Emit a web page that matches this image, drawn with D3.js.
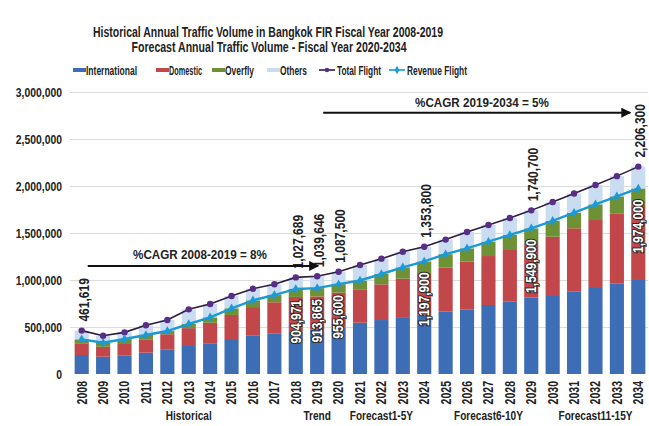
<!DOCTYPE html>
<html><head><meta charset="utf-8">
<script src="https://cdn.jsdelivr.net/npm/d3@7"></script>
<style>
html,body{margin:0;padding:0;background:#fff;}
svg{display:block;font-family:'Liberation Sans',Arial,sans-serif;font-weight:bold;}
svg text{font-family:'Liberation Sans',Arial,sans-serif;font-weight:bold;}
</style></head>
<body>
<svg id="chart" width="649" height="426"></svg>
<script>
const years = ["2008","2009","2010","2011","2012","2013","2014","2015","2016","2017","2018","2019","2020","2021","2022","2023","2024","2025","2026","2027","2028","2029","2030","2031","2032","2033","2034"];
const international = [202000,184000,199000,227000,263000,298000,327000,372000,412000,433000,455000,470000,495000,546000,574000,605000,630000,663000,688000,734000,769000,812000,840000,880000,925000,965000,1010000];
const domestic = [125000,106000,120000,142000,160000,190000,218000,256000,300000,330000,365000,355000,370000,355000,380000,410000,445000,470000,507000,521000,550000,573000,621000,670000,713000,744000,788000];
const overfly = [42000,43000,53000,46000,34000,44000,58000,71000,72000,77000,85000,89000,91000,94000,110000,120000,123000,142000,142000,153000,161000,165000,169000,166000,167000,181000,176000];
const others = [93000,74000,71000,103000,117000,156000,142000,131000,123000,114000,123000,126000,132000,165000,163000,165000,156000,155000,173000,177000,180000,191000,200000,204000,205000,215000,232000];
const totalFlight = [461619,407000,443000,518000,574000,688000,745000,830000,907000,954000,1027689,1039646,1087500,1160000,1227000,1300000,1353800,1430000,1510000,1585000,1660000,1740700,1830000,1920000,2010000,2105000,2206300];
const revenueFlight = [369000,333000,372000,415000,457000,532000,603000,699000,784000,840000,904971,913865,955600,995000,1064000,1135000,1197900,1275000,1337000,1408000,1480000,1549900,1630000,1716000,1805000,1890000,1974000];
const totalLabelYears = ["2008","2018","2019","2020","2024","2029","2034"];
const revenueLabelYears = ["2018","2019","2020","2024","2029","2034"];
const yTicks = [0,500000,1000000,1500000,2000000,2500000,3000000];
const seriesNames = ["International","Domestic","Overfly","Others"];
const seriesColors = ["#3d6db4","#c1474a","#6d9134","#c9dcf2"];
const periodLabels = [
  {text:"Historical", from:"2011", to:"2015"},
  {text:"Trend", from:"2019", to:"2019"},
  {text:"Forecast1-5Y", from:"2021", to:"2023"},
  {text:"Forecast6-10Y", from:"2025", to:"2029"},
  {text:"Forecast11-15Y", from:"2030", to:"2034"}
];
const cagr = [
  {text:"%CAGR  2008-2019 = 8%", from:"2008", to:"2019", value:1150000},
  {text:"%CAGR  2019-2034 = 5%", from:"2019", to:"2034", value:2780000}
];

const svg = d3.select("#chart");
const W = 649, H = 426;
svg.append("rect").attr("x",0).attr("y",0).attr("width",W).attr("height",H).attr("fill","#fff");

function condense(sel, f){
  sel.each(function(){
    const L = this.getComputedTextLength();
    this.setAttribute("textLength", (L*f).toFixed(1));
    this.setAttribute("lengthAdjust","spacingAndGlyphs");
  });
}
function fitTo(sel, w){
  sel.attr("textLength", w).attr("lengthAdjust","spacingAndGlyphs");
}

const x = d3.scaleBand().domain(years).range([71,649]).paddingInner(0.34).paddingOuter(0.17);
const y = d3.scaleLinear().domain([0,3000000]).range([374,92]);
const cx = d => x(d) + x.bandwidth()/2;

// gridlines
svg.append("g").selectAll("line").data(yTicks.slice(1)).join("line")
  .attr("x1",70).attr("x2",648).attr("y1",d=>y(d)+0.5).attr("y2",d=>y(d)+0.5)
  .attr("stroke","#dcdcdc").attr("stroke-width",1);

// y axis
const yAxis = svg.append("g").attr("transform","translate(66,0)")
  .call(d3.axisLeft(y).tickValues(yTicks).tickFormat(d3.format(",")).tickSize(0).tickPadding(4));
yAxis.select(".domain").remove();
yAxis.selectAll("text").attr("font-size",13.5).attr("fill","#222").attr("font-family",null);
condense(yAxis.selectAll("text"), 0.77);

// x axis
const xAxis = svg.append("g").attr("transform",`translate(0,${y(0)})`)
  .call(d3.axisBottom(x).tickSize(0).tickPadding(0));
xAxis.select(".domain").remove();
xAxis.selectAll("text").attr("font-size",14).attr("fill","#222").attr("font-family",null)
  .attr("text-anchor","end").attr("transform","rotate(-90)").attr("x",-7).attr("y",0).attr("dy","0.35em");
condense(xAxis.selectAll("text"), 0.75);

// stacked bars
const rows = years.map((yr,i)=>({year:yr, International:international[i], Domestic:domestic[i], Overfly:overfly[i], Others:others[i]}));
const stack = d3.stack().keys(seriesNames)(rows);
svg.append("g").selectAll("g").data(stack).join("g")
  .attr("fill",(d,i)=>seriesColors[i])
  .selectAll("rect").data(d=>d).join("rect")
  .attr("x",d=>x(d.data.year)).attr("width",x.bandwidth())
  .attr("y",d=>y(d[1])).attr("height",d=>y(d[0])-y(d[1]));

// lines
const totalPts = years.map((yr,i)=>[cx(yr), y(totalFlight[i])]);
const revPts = years.map((yr,i)=>[cx(yr), y(revenueFlight[i])]);
svg.append("path").attr("d",d3.line()(totalPts)).attr("fill","none").attr("stroke","#2b1d3b").attr("stroke-width",1.6);
svg.append("g").selectAll("circle").data(totalPts).join("circle")
  .attr("cx",d=>d[0]).attr("cy",d=>d[1]).attr("r",3.2).attr("fill","#5a2d86");
svg.append("path").attr("d",d3.line()(revPts)).attr("fill","none").attr("stroke","#1b9ad8").attr("stroke-width",2.4);
svg.append("g").selectAll("path").data(revPts).join("path")
  .attr("transform",d=>`translate(${d[0]},${d[1]})`)
  .attr("d",d3.symbol().type(d3.symbolDiamond).size(26)).attr("fill","#1b9ad8");

// total labels
const fmt = d3.format(",");
const tl = svg.append("g").selectAll("text").data(totalLabelYears).join("text")
  .attr("transform",d=>`translate(${cx(d)+2},${y(totalFlight[years.indexOf(d)])-9}) rotate(-90)`)
  .attr("text-anchor","start").attr("dy","0.35em").attr("font-size",14).attr("fill","#222")
  .text(d=>fmt(totalFlight[years.indexOf(d)]));
condense(tl, 0.86);

// revenue labels (white on bars)
const rl = svg.append("g").selectAll("text").data(revenueLabelYears).join("text")
  .attr("transform",d=>`translate(${cx(d)},${y(revenueFlight[years.indexOf(d)])+11}) rotate(-90)`)
  .attr("text-anchor","end").attr("dy","0.35em").attr("font-size",14).attr("fill","#fff")
  .attr("stroke","#2a2a2a").attr("stroke-width",2.2).attr("paint-order","stroke")
  .text(d=>fmt(revenueFlight[years.indexOf(d)]));
condense(rl, 0.86);

// CAGR arrows
const defs = svg.append("defs");
defs.append("marker").attr("id","arr").attr("viewBox","0 0 10 10").attr("refX",9).attr("refY",5)
  .attr("markerWidth",5).attr("markerHeight",5).attr("orient","auto")
  .append("path").attr("d","M0,0 L10,5 L0,10 z").attr("fill","#111");
cagr.forEach((c,i)=>{
  const x1 = cx(c.from)+6;
  const x2 = i===0 ? cx(c.to)+1 : cx(c.to)-8;
  const yy = y(c.value);
  svg.append("line").attr("x1",x1).attr("x2",x2).attr("y1",yy).attr("y2",yy)
    .attr("stroke","#111").attr("stroke-width",2).attr("marker-end","url(#arr)");
  const t = svg.append("text").attr("x",i===0?200:482).attr("y",yy-(i===0?7:6)).attr("text-anchor","middle")
    .attr("font-size",13).attr("fill","#222").text(c.text);
  fitTo(t, 134);
});

// period labels
const pl = svg.append("g").selectAll("text").data(periodLabels).join("text")
  .attr("x",d=>(cx(d.from)+cx(d.to))/2).attr("y",420).attr("text-anchor","middle")
  .attr("font-size",12).attr("fill","#222").text(d=>d.text);
condense(pl, 0.84);

// title
fitTo(svg.append("text").attr("x",268).attr("y",37).attr("text-anchor","middle").attr("font-size",14).attr("fill","#222")
  .text("Historical Annual Traffic Volume in Bangkok FIR Fiscal Year 2008-2019"), 350);
fitTo(svg.append("text").attr("x",269).attr("y",52).attr("text-anchor","middle").attr("font-size",14).attr("fill","#222")
  .text("Forecast Annual Traffic Volume - Fiscal Year 2020-2034"), 275);

// legend
const legend = [
  {name:"International", type:"rect", color:seriesColors[0], x:73, w:51},
  {name:"Domestic", type:"rect", color:seriesColors[1], x:156, w:33},
  {name:"Overfly", type:"rect", color:seriesColors[2], x:212, w:29},
  {name:"Others", type:"rect", color:seriesColors[3], x:267, w:27},
  {name:"Total Flight", type:"line", color:"#2b1d3b", mark:"#5a2d86", x:319, w:44},
  {name:"Revenue Flight", type:"line", color:"#1b9ad8", mark:"#1b9ad8", x:389, w:60}
];
const lg = svg.append("g");
legend.forEach(l=>{
  let tx;
  if(l.type==="rect"){
    lg.append("rect").attr("x",l.x).attr("y",68).attr("width",13).attr("height",4).attr("fill",l.color);
    tx = l.x+13;
  } else {
    lg.append("line").attr("x1",l.x).attr("x2",l.x+16).attr("y1",70).attr("y2",70).attr("stroke",l.color).attr("stroke-width",1.6);
    if(l.name==="Total Flight") lg.append("circle").attr("cx",l.x+8).attr("cy",70).attr("r",2.3).attr("fill",l.mark);
    else lg.append("path").attr("transform",`translate(${l.x+8},70)`).attr("d",d3.symbol().type(d3.symbolDiamond).size(20)).attr("fill",l.mark);
    tx = l.x+18;
  }
  fitTo(lg.append("text").attr("x",tx).attr("y",74.5).attr("font-size",12).attr("fill","#222").text(l.name), l.w);
});
</script>
</body></html>
